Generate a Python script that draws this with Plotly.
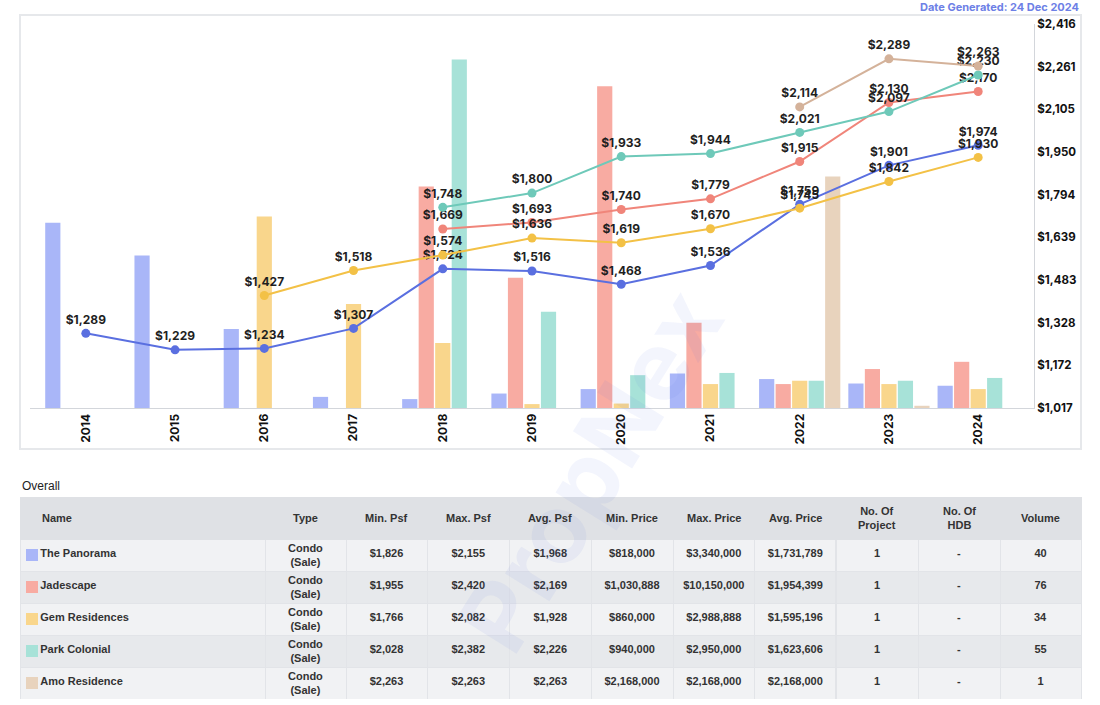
import plotly.graph_objects as go

# ---- chart data ----
years = ['2014', '2015', '2016', '2017', '2018', '2019', '2020', '2021', '2022', '2023', '2024']
projects = ['The Panorama', 'Jadescape', 'Gem Residences', 'Park Colonial', 'Amo Residence']

# yearly transaction volume (bars)
vol_panorama = [333, 274, 142, 20, 16, 26, 34, 62, 52, 44, 40]
vol_jadescape = [0, 0, 0, 0, 398, 234, 578, 153, 43, 70, 83]
vol_gem = [0, 0, 344, 187, 117, 7, 8, 43, 49, 43, 34]
vol_park = [0, 0, 0, 0, 626, 173, 59, 63, 49, 49, 54]
vol_amo = [0, 0, 0, 0, 0, 0, 0, 0, 416, 4, 0]

# yearly average psf (lines)
psf_panorama = [1289, 1229, 1234, 1307, 1524, 1516, 1468, 1536, 1759, 1901, 1974]
psf_jadescape = [None, None, None, None, 1669, 1693, 1740, 1779, 1915, 2130, 2170]
psf_gem = [None, None, 1427, 1518, 1574, 1636, 1619, 1670, 1745, 1842, 1930]
psf_park = [None, None, None, None, 1748, 1800, 1933, 1944, 2021, 2097, 2230]
psf_amo = [None, None, None, None, None, None, None, None, 2114, 2289, 2263]

psf_ticks = [1017, 1172, 1328, 1483, 1639, 1794, 1950, 2105, 2261, 2416]
psf_ticktext = ['$1,017', '$1,172', '$1,328', '$1,483', '$1,639', '$1,794',
                '$1,950', '$2,105', '$2,261', '$2,416']

# ---- table data ----
tbl_header = ['Name', 'Type', 'Min. Psf', 'Max. Psf', 'Avg. Psf', 'Min. Price',
              'Max. Price', 'Avg. Price', 'No. Of<br>Project', 'No. Of<br>HDB', 'Volume']
tbl_type = ['Condo<br>(Sale)'] * 5
tbl_min_psf = ['$1,826', '$1,955', '$1,766', '$2,028', '$2,263']
tbl_max_psf = ['$2,155', '$2,420', '$2,082', '$2,382', '$2,263']
tbl_avg_psf = ['$1,968', '$2,169', '$1,928', '$2,226', '$2,263']
tbl_min_price = ['$818,000', '$1,030,888', '$860,000', '$940,000', '$2,168,000']
tbl_max_price = ['$3,340,000', '$10,150,000', '$2,988,888', '$2,950,000', '$2,168,000']
tbl_avg_price = ['$1,731,789', '$1,954,399', '$1,595,196', '$1,623,606', '$2,168,000']
tbl_projects = ['1', '1', '1', '1', '1']
tbl_hdb = ['-', '-', '-', '-', '-']
tbl_volume = ['40', '76', '34', '55', '1']

bar_colors = ['#a9b6f8', '#f8aba2', '#f9d68c', '#a7e2d8', '#e8d3bd']
line_colors = ['#5a6fe0', '#f0857a', '#f3c146', '#6ec9b9', '#d4b29a']

W, H = 1100, 705


def px(x):
    return x / W


def py(y):
    return 1 - y / H


fig = go.Figure()

vols = [vol_panorama, vol_jadescape, vol_gem, vol_park, vol_amo]
psfs = [psf_panorama, psf_jadescape, psf_gem, psf_park, psf_amo]

for name, v, c in zip(projects, vols, bar_colors):
    fig.add_trace(go.Bar(x=years, y=v, name=name, marker_color=c,
                         marker_line_width=0, yaxis='y', showlegend=False))

for name, p, c in zip(projects, psfs, line_colors):
    fig.add_trace(go.Scatter(
        x=years, y=p, name=name, yaxis='y2', mode='lines+markers+text',
        line=dict(color=c, width=2), marker=dict(color=c, size=9),
        texttemplate='$%{y:,.0f}', textposition='top center',
        textfont=dict(family='Inter', size=12, color='#1f1f1f', weight='bold'),
        showlegend=False, cliponaxis=False))

# table: header texts and the two-line Type cells are annotations, so they
# sit vertically centred and the rows stay 32px high
col_edges = [20, 265, 346, 427, 509.5, 591, 673, 754.6, 836, 918, 1000, 1081]
col_widths = [b - a for a, b in zip(col_edges[:-1], col_edges[1:])]
col_mid = [(a + b) / 2 for a, b in zip(col_edges[:-1], col_edges[1:])]
pad = '\u00a0\u00a0\u00a0\u00a0'
name_cells = [pad + n for n in projects]
blank = [''] * len(projects)
cols = [name_cells, blank, tbl_min_psf, tbl_max_psf, tbl_avg_psf, tbl_min_price,
        tbl_max_price, tbl_avg_price, tbl_projects, tbl_hdb, tbl_volume]
cols = [['<b>%s</b>' % v if v else v for v in col] for col in cols]
row_fill = ['#f1f2f4', '#e7e9ec', '#f1f2f4', '#e7e9ec', '#f1f2f4']

fig.add_trace(go.Table(
    domain=dict(x=[px(20), px(1081)], y=[py(700), py(497)]),
    columnwidth=col_widths,
    header=dict(values=[''] * len(tbl_header), fill_color='#dfe1e5', height=42,
                line=dict(color='#dfe1e5', width=1)),
    cells=dict(values=cols, fill_color=[row_fill] * 11, height=32,
               align=['left'] + ['center'] * 10,
               line=dict(color='#e2e4e8', width=1),
               font=dict(family='Liberation Sans', size=11, color='#333'))))

# colour swatches in front of the project names
row_mid = [555, 587, 619, 651, 683]
shapes = [dict(type='rect', xref='paper', yref='paper', x0=px(20), x1=px(1081),
               y0=py(449), y1=py(15), line=dict(color='#e6e8eb', width=2),
               layer='below')]
for c, ym in zip(bar_colors, row_mid):
    shapes.append(dict(type='rect', xref='paper', yref='paper',
                       x0=px(26), x1=px(38), y0=py(ym + 6), y1=py(ym - 6),
                       fillcolor=c, line=dict(width=0), layer='above'))

tfont = dict(family='Liberation Sans', size=11, color='#333')
annotations = [
    dict(text='<b>Date Generated: 24 Dec 2024</b>', xref='paper', yref='paper',
         x=px(1081), y=py(7), xanchor='right', yanchor='middle', showarrow=False,
         font=dict(family='Inter', size=11, color='#6d80e6')),
    dict(text='Overall', xref='paper', yref='paper', x=px(20), y=py(486),
         xanchor='left', yanchor='middle', showarrow=False,
         font=dict(family='Liberation Sans', size=12, color='#222')),
    dict(text='PropNex', xref='paper', yref='paper', x=px(590), y=py(470),
         textangle=-58, showarrow=False,
         font=dict(family='Inter', size=96, color='rgba(90,110,220,0.07)', weight='bold')),
]
for i, h in enumerate(tbl_header):
    if i == 0:
        annotations.append(dict(text='<b>%s</b>' % h, xref='paper', yref='paper',
                                x=px(40), y=py(518), xanchor='left', yanchor='middle',
                                showarrow=False, font=tfont))
    else:
        annotations.append(dict(text='<b>%s</b>' % h, xref='paper', yref='paper',
                                x=px(col_mid[i]), y=py(518), xanchor='center',
                                yanchor='middle', showarrow=False, font=tfont))
for t, ym in zip(tbl_type, row_mid):
    annotations.append(dict(text='<b>%s</b>' % t, xref='paper', yref='paper',
                            x=px(col_mid[1]), y=py(ym), xanchor='center', yanchor='middle',
                            showarrow=False, font=tfont))

fig.update_layout(
    width=W, height=H, margin=dict(l=0, r=0, t=0, b=0, autoexpand=False),
    paper_bgcolor='white', plot_bgcolor='white',
    barmode='group', bargap=0.075, bargroupgap=0.08,
    xaxis=dict(domain=[px(30), px(1034)], anchor='y', tickangle=-90, automargin=False,
               type='category', showgrid=False, showline=True, linecolor='#d3d6db',
               ticks='', tickfont=dict(family='Inter', size=12, color='#111', weight='bold')),
    yaxis=dict(domain=[py(408), py(24)], range=[0, 690], visible=False, automargin=False),
    yaxis2=dict(overlaying='y', side='right', anchor='x', range=[1017, 2416],
                tickvals=psf_ticks, ticktext=psf_ticktext, showgrid=False, automargin=False,
                showline=True, linecolor='#d3d6db', ticks='', zeroline=False,
                tickfont=dict(family='Inter', size=11.5, color='#111', weight='bold')),
    shapes=shapes,
    annotations=annotations)

# drop the default 8px page margin so the figure fills the window exactly
fig.write_html('out.html', config={'displayModeBar': False},
               post_script="document.body.style.margin='0';")
